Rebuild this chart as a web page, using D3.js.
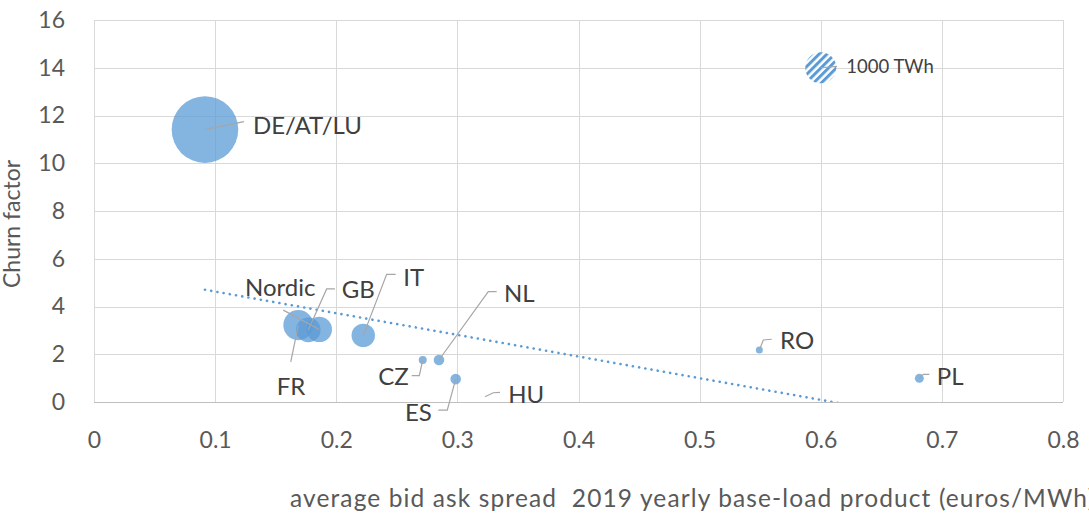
<!DOCTYPE html>
<html>
<head>
<meta charset="utf-8">
<script src="https://cdn.jsdelivr.net/npm/d3@7"></script>
<style>
  html, body { margin: 0; padding: 0; background: #fff; overflow: hidden; }
  svg { display: block; }
  text { font-family: Lato, "Open Sans", sans-serif; }
</style>
</head>
<body>
<svg id="chart" width="1089" height="516"></svg>
<script>
// ---- data ----
const categories = ["DE/AT/LU", "FR", "GB", "Nordic", "IT", "CZ", "NL", "ES", "HU", "RO", "PL"];
const spread = [0.0916, 0.1687, 0.1769, 0.186, 0.2223, 0.2714, 0.2848, 0.2986, 0.3228, 0.5493, 0.6814];
const churn = [11.41, 3.22, 3.02, 3.04, 2.79, 1.76, 1.76, 0.96, 0.22, 2.18, 0.99];
const volumeTWh = [4615, 937, 630, 671, 570, 67, 117, 117, 0, 51, 84];

const legendSpread = [0.6];
const legendChurn = [14];
const legendVolume = [1000];
const legendLabels = ["1000 TWh"];

const xTickValues = [0, 0.1, 0.2, 0.3, 0.4, 0.5, 0.6, 0.7, 0.8];
const xTickLabels = ["0", "0.1", "0.2", "0.3", "0.4", "0.5", "0.6", "0.7", "0.8"];
const yTickValues = [0, 2, 4, 6, 8, 10, 12, 14, 16];
const yTickLabels = ["0", "2", "4", "6", "8", "10", "12", "14", "16"];

const xTitle = "average bid ask spread  2019 yearly base-load product (euros/MWh)";
const yTitle = "Churn factor";

// ---- label layout (pixel offsets from bubble centre) ----
const labelLayout = {
  "DE/AT/LU": { t: [48, 4], leader: [[39, -8]] },
  "FR": { t: [-21.6, 70], leader: [[-7.6, 36.7]] },
  "GB": { t: [33.4, -31.7], leader: [[18.4, -41], [26.7, -41]] },
  "Nordic": { t: [-74.3, -33.6], leader: [[-36, -19.3]] },
  "IT": { t: [40, -49.3], leader: [[23.4, -61], [32.4, -61]] },
  "CZ": { t: [-44.4, 25], leader: [[-3.4, 15.7], [-11, 15.7]] },
  "NL": { t: [65, -58.3], leader: [[49.3, -68.3], [57.7, -68.3]] },
  "ES": { t: [-50.7, 42], leader: [[-8.4, 31], [-17.4, 31]] },
  "HU": { t: [23.3, 6.6], leader: [[8.3, -4], [15, -4.4]] },
  "RO": { t: [20.7, -0.7], leader: [[4, -10], [12.4, -10.7]] },
  "PL": { t: [17.4, 6.7], leader: [[4, -4], [10, -4]] }
};
const legendLayout = { t: [25.6, 5.5], leader: [[16.3, -1.3]] };

// ---- chart ----
const svg = d3.select("#chart");
const pL = 94, pR = 1063, pT = 20, pB = 402;
const x = d3.scaleLinear().domain([0, 0.8]).range([pL, pR]);
const y = d3.scaleLinear().domain([0, 16]).range([pB, pT]);
const r = d3.scaleSqrt().domain([0, 1000]).range([0, 15.5]);

const blue = "#5b9bd5";
const labelColor = "#404040";
const tickColor = "#595959";

// hatched pattern for legend bubble
const defs = svg.append("defs");
const pat = defs.append("pattern")
  .attr("id", "hatch").attr("patternUnits", "userSpaceOnUse")
  .attr("width", 5.5).attr("height", 5.5)
  .attr("patternTransform", "rotate(45)");
pat.append("rect").attr("width", 5.5).attr("height", 5.5).attr("fill", "#ffffff");
pat.append("rect").attr("width", 3).attr("height", 5.5).attr("fill", blue);

defs.append("clipPath").attr("id", "plotclip")
  .append("rect").attr("x", pL).attr("y", pT).attr("width", pR - pL).attr("height", pB - pT);

// gridlines
const grid = svg.append("g");
grid.selectAll("line.h").data(yTickValues).join("line")
  .attr("x1", pL).attr("x2", pR)
  .attr("y1", d => Math.round(y(d)) + 0.5).attr("y2", d => Math.round(y(d)) + 0.5)
  .attr("stroke", d => d === 0 ? "#bfbfbf" : "#d9d9d9").attr("stroke-width", 1);
grid.selectAll("line.v").data(xTickValues).join("line")
  .attr("y1", pT).attr("y2", pB)
  .attr("x1", d => Math.round(x(d)) + 0.5).attr("x2", d => Math.round(x(d)) + 0.5)
  .attr("stroke", "#d9d9d9").attr("stroke-width", 1);

// axes (tick labels only)
const xAxis = d3.axisBottom(x).tickValues(xTickValues).tickSize(0)
  .tickFormat((d, i) => xTickLabels[i]).tickPadding(30);
const gx = svg.append("g").attr("transform", `translate(0,${pB})`).call(xAxis);
gx.select(".domain").remove();
gx.selectAll("text").attr("font-size", 23).attr("fill", tickColor).attr("font-family", "Lato, sans-serif");

const yAxis = d3.axisLeft(y).tickValues(yTickValues).tickSize(0)
  .tickFormat((d, i) => yTickLabels[i]).tickPadding(29);
const gy = svg.append("g").attr("transform", `translate(${pL},0)`).call(yAxis);
gy.select(".domain").remove();
gy.selectAll("text").attr("font-size", 23).attr("fill", tickColor).attr("font-family", "Lato, sans-serif");

// data
const data = categories.map((c, i) => ({ name: c, sx: spread[i], cy: churn[i], v: volumeTWh[i] }));

// bubbles (largest first)
svg.append("g").selectAll("circle")
  .data(data.filter(d => d.v > 0).sort((a, b) => b.v - a.v)).join("circle")
  .attr("cx", d => x(d.sx)).attr("cy", d => y(d.cy)).attr("r", d => r(d.v))
  .attr("fill", blue).attr("fill-opacity", 0.75);

// legend bubble
const legendData = legendSpread.map((s, i) => ({ name: legendLabels[i], sx: s, cy: legendChurn[i], v: legendVolume[i] }));
svg.append("g").selectAll("circle").data(legendData).join("circle")
  .attr("cx", d => x(d.sx)).attr("cy", d => y(d.cy)).attr("r", d => r(d.v))
  .attr("fill", "url(#hatch)");

// linear trendline (OLS over the data)
const mx = d3.mean(spread), my = d3.mean(churn);
const sxy = d3.sum(spread.map((s, i) => (s - mx) * (churn[i] - my)));
const sxx = d3.sum(spread.map(s => (s - mx) * (s - mx)));
const slope = sxy / sxx, intercept = my - slope * mx;
const xr = d3.extent(spread);
svg.append("line")
  .attr("clip-path", "url(#plotclip)")
  .attr("x1", x(xr[0])).attr("y1", y(intercept + slope * xr[0]))
  .attr("x2", x(xr[1])).attr("y2", y(intercept + slope * xr[1]))
  .attr("stroke", blue).attr("stroke-width", 2.6)
  .attr("stroke-dasharray", "0.1 6.2").attr("stroke-linecap", "round");

// leader lines and labels
const lg = svg.append("g");
data.forEach(d => {
  const L = labelLayout[d.name];
  const cx = x(d.sx), cy = y(d.cy);
  const pts = [[cx, cy]].concat(L.leader.map(p => [cx + p[0], cy + p[1]]));
  lg.append("path").attr("d", d3.line()(pts)).attr("fill", "none")
    .attr("stroke", "#a6a6a6").attr("stroke-width", 1.2);
  lg.append("text").attr("x", cx + L.t[0]).attr("y", cy + L.t[1])
    .attr("font-size", 24).attr("fill", labelColor).text(d.name);
});
legendData.forEach(d => {
  const cx = x(d.sx), cy = y(d.cy);
  const pts = [[cx, cy]].concat(legendLayout.leader.map(p => [cx + p[0], cy + p[1]]));
  lg.append("path").attr("d", d3.line()(pts)).attr("fill", "none")
    .attr("stroke", "#a6a6a6").attr("stroke-width", 1.2);
  lg.append("text").attr("x", cx + legendLayout.t[0]).attr("y", cy + legendLayout.t[1])
    .attr("font-size", 18.5).attr("fill", labelColor).text(d.name);
});

// axis titles
const xt = svg.append("text").attr("x", 290).attr("y", 507)
  .attr("font-size", 24.5).attr("fill", tickColor).style("white-space", "pre")
  .text(xTitle);
// stretch spacing so the title runs to the right edge like the reference
const visiblePart = xTitle.slice(0, xTitle.length - 1);
const probe = svg.append("text").attr("font-size", 24.5).style("white-space", "pre").text(visiblePart);
const baseLen = probe.node().getComputedTextLength();
probe.remove();
const targetLen = 797;
xt.attr("letter-spacing", Math.max(0, (targetLen - baseLen) / (visiblePart.length - 1)));

svg.append("text").attr("transform", "translate(20,224) rotate(-90)")
  .attr("text-anchor", "middle").attr("font-size", 23).attr("fill", tickColor)
  .text(yTitle);
</script>
</body>
</html>
